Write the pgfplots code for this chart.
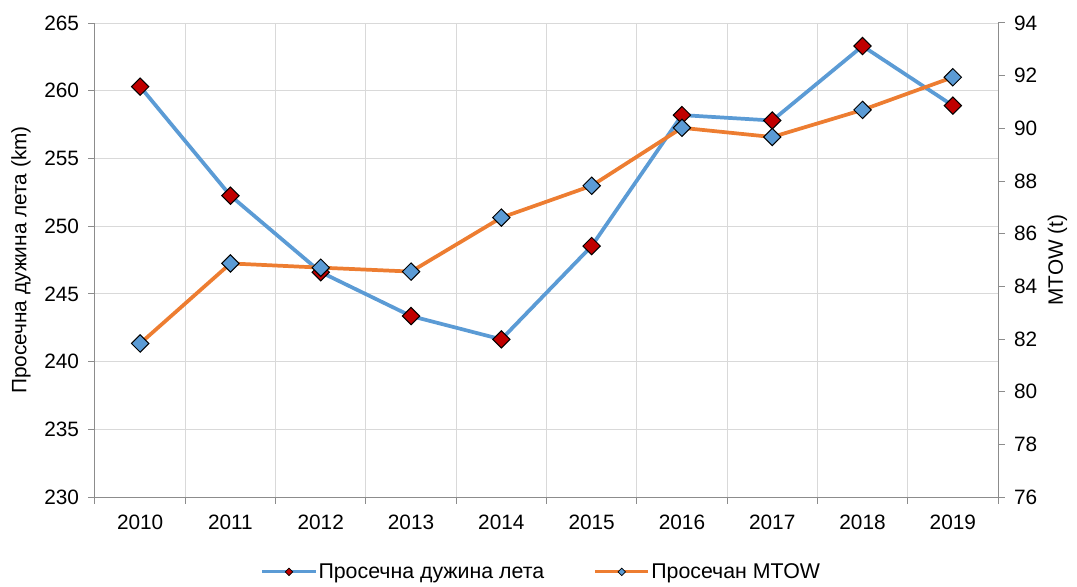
\documentclass[border=0pt]{standalone}
\usepackage{fontspec}
\setmainfont{Liberation Sans}
\usepackage{pgfplots}
\usepackage{pgfplotstable}
\pgfplotsset{compat=1.18}
\definecolor{lblue}{HTML}{5B9BD5}
\definecolor{lorange}{HTML}{ED7D31}
\definecolor{dred}{HTML}{C00000}
\definecolor{axgray}{HTML}{8C8C8C}
\definecolor{gridgray}{HTML}{D9D9D9}

\pgfplotstableread{
x len mtow
0 260.3 81.83
1 252.25 84.87
2 246.6 84.71
3 243.36 84.56
4 241.64 86.61
5 248.53 87.82
6 258.2 90.02
7 257.8 89.67
8 263.3 90.70
9 258.9 91.94
}\datatable

\pgfplotsset{
  common/.style={
    width=677.25pt, height=355.5pt, scale only axis,
    at={(0pt,0pt)}, anchor=south west,
    xmin=-0.5, xmax=9.5,
    font=\fontsize{15.6}{18}\selectfont,
    /pgf/number format/assume math mode=true,
    axis line style={axgray, line width=0.75pt},
    tick style={axgray, line width=0.75pt},
    tick align=outside,
    major tick length=5pt,
    clip=false,
  },
}

\begin{document}
\begin{tikzpicture}
\path[use as bounding box] (-71.25pt,-66.75pt) rectangle (736.5pt,372.75pt);
\begin{axis}[common,
  axis x line*=bottom, axis y line*=left,
  ymin=230, ymax=265, ytick={230,235,...,265},
  ymajorgrids, xmajorgrids,
  grid style={gridgray, line width=0.75pt},
  xtick={-0.5,0.5,...,9.5}, xticklabels={,,,,,,,,,,,},
  extra x ticks={0,1,...,9},
  extra x tick labels={2010,2011,2012,2013,2014,2015,2016,2017,2018,2019},
  extra x tick style={major tick length=0pt, grid=none,
    xticklabel style={yshift=-10pt, font=\fontsize{15.6}{18}\selectfont}},
  ylabel={Просечна дужина лета (km)},
  every axis y label/.style={at={(axis description cs:-0.082,0.5)}, anchor=center, rotate=90,
    font=\fontsize{15.6}{18}\selectfont},
  yticklabel style={xshift=-3.5pt, font=\fontsize{15.6}{18}\selectfont},
]
\addplot[lblue, line width=2.8pt, mark=square*, mark size=4.6pt,
  mark options={rotate=45, fill=dred, draw=black, line width=0.75pt}]
  table[x=x, y=len] {\datatable};
\end{axis}
\begin{axis}[common,
  axis x line=none, axis y line*=right,
  ymin=76, ymax=94, ytick={76,78,...,94},
  ylabel={MTOW (t)},
  every axis y label/.style={at={(axis description cs:1.066,0.5)}, anchor=center, rotate=90,
    font=\fontsize{15.6}{18}\selectfont},
  yticklabel style={xshift=3.5pt, font=\fontsize{15.6}{18}\selectfont},
  legend style={at={(0.494,-0.158)}, anchor=center, legend columns=2, draw=none, fill=none,
    font=\fontsize{16}{18}\selectfont,
    /tikz/every even column/.append style={column sep=36pt},
    nodes={inner sep=1pt}},
  legend image code/.code={\draw[mark repeat=2, mark phase=2] plot coordinates {(0pt,0pt) (20pt,0pt) (40pt,0pt)};},
]
\addlegendimage{lblue, line width=2.3pt, mark=square*, mark size=2pt,
  mark options={rotate=45, fill=dred, draw=black, line width=0.5pt}}
\addlegendentry{Просечна дужина лета}
\addlegendimage{lorange, line width=2.3pt, mark=square*, mark size=2pt,
  mark options={rotate=45, fill=lblue, draw=black, line width=0.5pt}}
\addlegendentry{Просечан MTOW}
\addplot[lorange, line width=2.8pt, mark=square*, mark size=4.6pt,
  mark options={rotate=45, fill=lblue, draw=black, line width=0.75pt}, forget plot]
  table[x=x, y=mtow] {\datatable};
\end{axis}
\end{tikzpicture}
\end{document}
